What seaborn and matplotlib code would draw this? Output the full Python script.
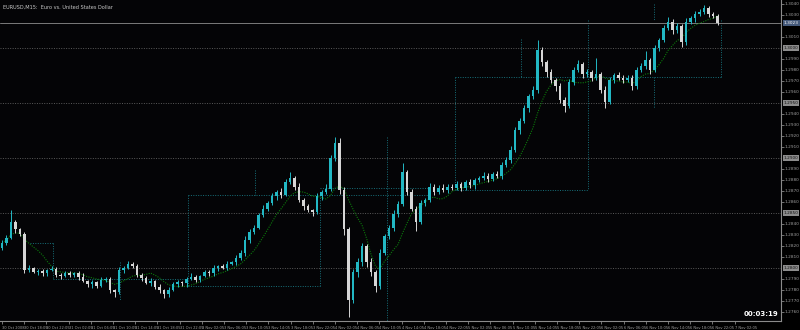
import numpy as np
import pandas as pd
import matplotlib
matplotlib.use("Agg")
import matplotlib.pyplot as plt
import seaborn as sns

# ---------------- data ----------------
title = "EURUSD,M15:  Euro vs. United States Dollar"
first_open = 1.2818
close = [
    1.2823, 1.2827, 1.2842, 1.2835, 1.2831, 1.2798, 1.2800, 1.2796, 1.2797, 1.2795,
    1.2798, 1.2799, 1.2794, 1.2793, 1.2795, 1.2794, 1.2795, 1.2792, 1.2788, 1.2785,
    1.2787, 1.2784, 1.2789, 1.2790, 1.2780, 1.2778, 1.2798, 1.2800, 1.2804, 1.2802,
    1.2794, 1.2791, 1.2786, 1.2788, 1.2783, 1.2780, 1.2776, 1.2780, 1.2785, 1.2787,
    1.2786, 1.2790, 1.2792, 1.2789, 1.2793, 1.2796, 1.2795, 1.2800, 1.2802, 1.2800,
    1.2804, 1.2805, 1.2809, 1.2814, 1.2825, 1.2833, 1.2836, 1.2848, 1.2854, 1.2859,
    1.2865, 1.2869, 1.2866, 1.2878, 1.2882, 1.2874, 1.2862, 1.2856, 1.2853, 1.2851,
    1.2865, 1.2869, 1.2872, 1.2900, 1.2914, 1.2871, 1.2835, 1.2771, 1.2796, 1.2805,
    1.2820, 1.2805, 1.2796, 1.2784, 1.2814, 1.2829, 1.2836, 1.2849, 1.2858, 1.2887,
    1.2869, 1.2854, 1.2842, 1.2859, 1.2862, 1.2874, 1.2869, 1.2873, 1.2871, 1.2874,
    1.2873, 1.2876, 1.2873, 1.2878, 1.2875, 1.2880, 1.2882, 1.2884, 1.2881, 1.2885,
    1.2884, 1.2894, 1.2898, 1.2907, 1.2925, 1.2934, 1.2945, 1.2956, 1.2962, 1.2998,
    1.2987, 1.2978, 1.2971, 1.2965, 1.2953, 1.2947, 1.2969, 1.2980, 1.2985, 1.2976,
    1.2978, 1.2973, 1.2976, 1.2962, 1.2951, 1.2971, 1.2975, 1.2973, 1.2971, 1.2973,
    1.2965, 1.2980, 1.2984, 1.2989, 1.2980, 1.3000, 1.3007, 1.3018, 1.3024, 1.3016,
    1.3020, 1.3005, 1.3024, 1.3027, 1.3031, 1.3033, 1.3036, 1.3031, 1.3029, 1.3023,
]
# wick lengths in pips above max(open, close) / below min(open, close)
upper_wick = [
    2, 3, 11, 2, 1, 2, 3, 1, 2, 2,
    1, 3, 2, 1, 2, 2, 1, 2, 3, 1,
    2, 1, 3, 2, 2, 1, 3, 2, 2, 1,
    2, 1, 2, 3, 1, 2, 1, 3, 2, 2,
    1, 2, 3, 2, 1, 2, 2, 3, 1, 2,
    2, 1, 3, 2, 4, 2, 3, 2, 3, 2,
    3, 2, 4, 3, 5, 2, 3, 2, 2, 1,
    3, 2, 4, 3, 5, 4, 3, 2, 3, 4,
    3, 2, 4, 2, 3, 2, 3, 4, 3, 8,
    2, 3, 2, 3, 2, 3, 2, 2, 3, 2,
    2, 3, 2, 2, 3, 2, 2, 3, 2, 2,
    3, 2, 3, 4, 3, 2, 3, 2, 3, 9,
    3, 2, 3, 2, 3, 2, 3, 3, 4, 2,
    3, 2, 15, 2, 3, 3, 2, 3, 2, 2,
    2, 3, 2, 8, 2, 3, 2, 3, 4, 2,
    3, 2, 3, 2, 3, 2, 3, 2, 2, 2,
]
lower_wick = [
    2, 2, 1, 3, 2, 3, 2, 1, 2, 2,
    2, 1, 2, 3, 1, 2, 2, 3, 1, 2,
    3, 2, 1, 2, 3, 4, 2, 3, 1, 2,
    2, 3, 1, 2, 2, 3, 3, 2, 1, 2,
    2, 3, 1, 2, 2, 1, 2, 2, 3, 1,
    2, 1, 2, 2, 3, 2, 2, 1, 2, 2,
    2, 3, 2, 1, 2, 3, 2, 3, 2, 4,
    2, 3, 2, 2, 3, 4, 5, 16, 3, 4,
    3, 4, 3, 6, 3, 2, 3, 2, 3, 2,
    3, 2, 8, 2, 3, 2, 3, 2, 2, 3,
    2, 2, 3, 2, 2, 3, 2, 2, 3, 2,
    2, 3, 2, 3, 2, 3, 2, 3, 2, 3,
    3, 4, 3, 4, 3, 5, 2, 3, 2, 3,
    2, 3, 2, 3, 6, 2, 3, 2, 3, 2,
    3, 2, 2, 3, 4, 2, 3, 2, 2, 3,
    2, 4, 2, 2, 3, 2, 2, 3, 2, 2,
]
ma_period = 8
price_ticks = [1.3040, 1.3030, 1.3010, 1.2990, 1.2980, 1.2970,
               1.2960, 1.2940, 1.2930, 1.2920, 1.2910, 1.2890,
               1.2880, 1.2870, 1.2860, 1.2840, 1.2830, 1.2820, 1.2810,
               1.2790, 1.2780, 1.2770, 1.2760]
level_lines = [1.3000, 1.2950, 1.2900, 1.2850, 1.2800]
time_labels = ["30 Oct 2008", "30 Oct 18:05", "30 Oct 22:05", "31 Oct 02:05",
               "31 Oct 06:05", "31 Oct 10:05", "31 Oct 14:05", "31 Oct 18:05",
               "31 Oct 22:05", "3 Nov 02:05", "3 Nov 06:05", "3 Nov 10:05",
               "3 Nov 14:05", "3 Nov 18:05", "3 Nov 22:05", "4 Nov 02:05",
               "4 Nov 06:05", "4 Nov 10:05", "4 Nov 14:05", "4 Nov 18:05",
               "4 Nov 22:05", "5 Nov 02:05", "5 Nov 06:05", "5 Nov 10:05",
               "5 Nov 14:05", "5 Nov 18:05", "5 Nov 22:05", "6 Nov 02:05",
               "6 Nov 06:05", "6 Nov 10:05", "6 Nov 14:05", "6 Nov 18:05",
               "6 Nov 22:05", "7 Nov 02:05"]
# dotted session lines: (bar_start, bar_end, price_start, price_end)
session_lines = [
    (41.3, 95.0, 1.2866, 1.2866), (70.7, 95.0, 1.2873, 1.2873),
    (70.7, 70.7, 1.2866, 1.2784), (41.3, 70.7, 1.2784, 1.2784),
    (41.3, 41.3, 1.2866, 1.2784), (56.2, 56.2, 1.2889, 1.2866),
    (85.6, 85.6, 1.2919, 1.2752), (100.7, 100.7, 1.2974, 1.2871),
    (100.7, 130.2, 1.2871, 1.2871), (130.2, 130.2, 1.3025, 1.2871),
    (100.7, 159.8, 1.2974, 1.2974), (115.3, 115.3, 1.3008, 1.2974),
    (144.9, 144.9, 1.2974, 1.2945), (144.9, 144.9, 1.3040, 1.3025),
    (159.8, 159.8, 1.3025, 1.2974), (6.2, 11.3, 1.2823, 1.2823),
    (11.3, 11.3, 1.2823, 1.2791), (11.3, 41.3, 1.2790, 1.2790),
    (26.2, 26.2, 1.2805, 1.2771),
]
clock_text = "00:03:19"

# ---------------- style ----------------
sns.set_theme(style="dark", rc={
    "axes.facecolor": "#040406", "figure.facecolor": "#000000",
    "axes.edgecolor": "#8a8a8a", "text.color": "#c8c8c8",
    "xtick.color": "#9a9a9a", "ytick.color": "#9a9a9a",
})
plt.rcParams["font.family"] = ["DejaVu Sans"]

bull_col = "#22b8c4"
bear_col = "#d6d6d6"
teal_dot = "#17707a"
grid_col = "#5a5a5a"

fig = plt.figure(figsize=(8, 3.3), dpi=100)
ax = fig.add_axes([0.0, 9 / 330, 781 / 800, 321 / 330])
ax.set_facecolor("#040406")

c = np.array(close)
n = len(c)
x = np.arange(n)
o = np.r_[first_open, c[:-1]]
hi = np.maximum(o, c) + np.array(upper_wick) / 10000
lo = np.minimum(o, c) - np.array(lower_wick) / 10000
bull = c >= o

# levels and session lines (behind candles)
for lv in level_lines:
    ax.axhline(lv, color=grid_col, lw=0.7, ls=(0, (1, 1.5)), zorder=1)
for b0, b1, p0, p1 in session_lines:
    ax.plot([b0, b1], [p0, p1], color=teal_dot, lw=0.7, ls=(0, (1, 1.5)), zorder=1)

# bid line
ax.axhline(c[-1], color="#7a7a7a", lw=0.7, zorder=1)

# candles
ax.vlines(x[bull], lo[bull], hi[bull], color=bull_col, lw=0.7, zorder=3)
ax.vlines(x[~bull], lo[~bull], hi[~bull], color=bear_col, lw=0.7, zorder=3)
body_h = np.maximum(np.abs(c - o), 0.00004)
body_b = np.minimum(o, c)
ax.bar(x[bull], body_h[bull], bottom=body_b[bull], width=0.6, color=bull_col,
       linewidth=0, zorder=4)
ax.bar(x[~bull], body_h[~bull], bottom=body_b[~bull], width=0.6, color=bear_col,
       linewidth=0, zorder=4)

# moving average
df = pd.DataFrame({"bar": x, "ma": pd.Series(c).rolling(ma_period, min_periods=1).mean()})
sns.lineplot(data=df, x="bar", y="ma", ax=ax, color="#0b7a0b", lw=0.8,
             linestyle=(0, (1, 1.2)), zorder=2)

# limits
ax.set_xlim(-0.444, 173.1)
ax.set_ylim(1.27518, 1.30436)

# right price axis
ax.yaxis.tick_right()
ax.set_yticks(price_ticks)
ax.set_yticklabels([f"{t:.4f}" for t in price_ticks])
ax.tick_params(axis="y", labelsize=3.1, length=2, width=0.5, pad=0.8,
               colors="#a0a0a0", right=True, left=False)
ax.set_ylabel("")

# bottom time axis
pos = [i * 22.2 / 4.5 for i in range(len(time_labels))]
ax.set_xticks(pos)
ax.set_xticklabels(time_labels, ha="left")
ax.tick_params(axis="x", labelsize=2.6, length=2.5, width=0.5, pad=0.8,
               colors="#a0a0a0", bottom=True)
ax.set_xlabel("")
for lab in ax.get_xticklabels():
    lab.set_horizontalalignment("left")
    lab.set_x(lab.get_position()[0])

for s in ["top", "left"]:
    ax.spines[s].set_visible(False)
for s in ["right", "bottom"]:
    ax.spines[s].set_color("#8a8a8a")
    ax.spines[s].set_linewidth(0.8)
ax.grid(False)

# boxed price labels
trans = ax.get_yaxis_transform()
for lv in level_lines:
    ax.text(1.0035, lv, f"{lv:.4f}", transform=trans, fontsize=3.1, va="center",
            ha="left", color="#111111",
            bbox=dict(boxstyle="square,pad=0.2", fc="#8c8c8c", ec="none"),
            clip_on=False, zorder=6)
ax.text(1.0035, c[-1], f"{c[-1]:.4f}", transform=trans, fontsize=3.1, va="center",
        ha="left", color="#ffffff",
        bbox=dict(boxstyle="square,pad=0.2", fc="#44597a", ec="none"),
        clip_on=False, zorder=6)

# title and clock
ax.text(0.004, 0.985, title, transform=ax.transAxes, fontsize=3.6,
        color="#c8c8c8", ha="left", va="top")
ax.text(0.997, 0.012, clock_text, transform=ax.transAxes, fontsize=5,
        fontweight="bold", color="#ffffff", ha="right", va="bottom")

fig.savefig("out.png", dpi=100, facecolor="#000000")
